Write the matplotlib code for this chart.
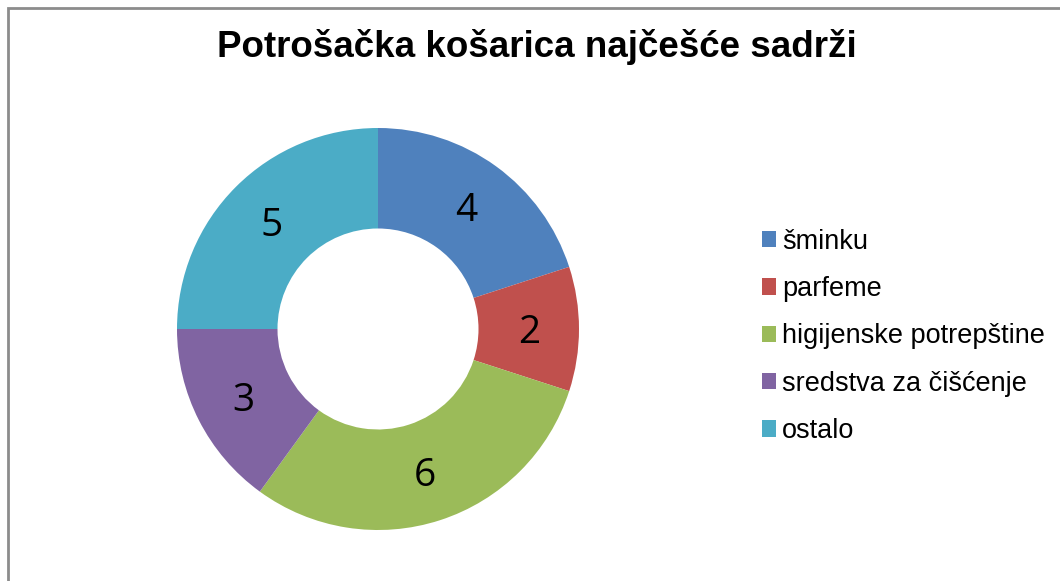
import matplotlib
matplotlib.use("Agg")
import matplotlib.pyplot as plt
from matplotlib.patches import Rectangle

plt.rcParams["font.family"] = ["Liberation Sans", "DejaVu Sans"]

categories = ["šminku", "parfeme", "higijenske potrepštine", "sredstva za čišćenje", "ostalo"]
values = [4, 2, 6, 3, 5]
colors = ["#4F81BD", "#C0504D", "#9BBB59", "#8064A2", "#4BACC6"]

fig = plt.figure(figsize=(10.6, 5.81), dpi=100)
# chart frame (only left and top edges visible in the reference)
fig.patches.append(Rectangle((7.5 / 1060, -0.1), 1.2, 1 - 7.5 / 581 + 0.1,
                             transform=fig.transFigure, fill=False,
                             edgecolor="#8C8C8C", linewidth=2))

# donut centred at (378, 329) px, outer radius ~201 px
r = 201
ax = fig.add_axes([(378 - r) / 1060, 1 - (329 + r) / 581, 2 * r / 1060, 2 * r / 581])
wedges, texts, autotexts = ax.pie(values, colors=colors, startangle=90, counterclock=False,
                                  radius=1, wedgeprops=dict(width=0.5, edgecolor="none"),
                                  autopct=lambda p: f"{round(p * sum(values) / 100):d}",
                                  pctdistance=0.75)
for t in autotexts:
    t.set_fontsize(28)
    t.set_family(["Open Sans", "DejaVu Sans"])
    t.set_color("black")
    x, y = t.get_position()
    t.set_position((x, y - 0.02))
ax.set_xlim(-1, 1); ax.set_ylim(-1, 1)
ax.set_aspect("equal")
ax.axis("off")

fig.text(537 / 1060, 1 - 47 / 581, "Potrošačka košarica najčešće sadrži",
         ha="center", va="center", fontsize=26.5, fontweight="bold")

leg = fig.legend(wedges, categories, loc="upper left", bbox_to_anchor=(748 / 1060, 1 - 215 / 581),
                 frameon=False, fontsize=19.5, handlelength=0.55, handleheight=0.55,
                 handletextpad=0.2, labelspacing=0.79, borderpad=0)

fig.savefig("out.png", dpi=100)
